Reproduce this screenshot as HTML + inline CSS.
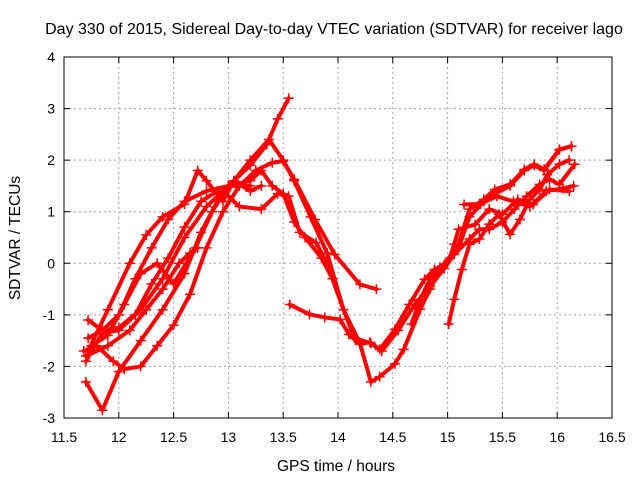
<!DOCTYPE html>
<html><head><meta charset="utf-8"><style>
body{margin:0;background:#fff;}
svg{display:block;font-family:"Liberation Sans",sans-serif;font-size:14px;}
</style></head><body>
<svg id="chart" width="640" height="480">
<text x="334" y="34" text-anchor="middle" style="font-size:16px">Day 330 of 2015, Sidereal Day-to-day VTEC variation (SDTVAR) for receiver lago</text>
<text x="336" y="471" text-anchor="middle" style="font-size:15.5px">GPS time / hours</text>
<text transform="translate(20,238) rotate(-90)" text-anchor="middle" style="font-size:15.5px">SDTVAR / TECUs</text>
<g id="grid"></g><g id="series"></g><g id="axes"></g>
</svg>
<script>
const xTicks=[11.5,12,12.5,13,13.5,14,14.5,15,15.5,16,16.5];
const yTicks=[-3,-2,-1,0,1,2,3,4];
const xTickLabels=["11.5","12","12.5","13","13.5","14","14.5","15","15.5","16","16.5"];
const yTickLabels=["-3","-2","-1","0","1","2","3","4"];
const trackTimes=[
[11.72,11.85,12.0,12.2,12.4,12.6,12.8,13.0,13.2,13.35,13.45,13.55],
[11.7,11.85,12.0,12.2,12.4,12.6,12.75,12.9,13.05,13.2,13.37,13.5,13.6,13.75,13.9,14.05,14.15,14.3,14.4,14.55,14.7,14.84,14.97,15.1,15.2,15.33,15.43,15.57,15.7,15.79,15.88,16.02,16.13],
[11.68,11.8,11.95,12.05,12.2,12.35,12.5,12.65,12.8,12.95,13.1,13.25,13.4,13.5,13.6,13.79,13.97,14.2,14.35],
[11.7,11.85,12.0,12.15,12.3,12.45,12.6,12.75,12.9,13.0,13.1,13.3,13.45,13.55,13.65,13.8,13.9,14.05,14.2,14.3,14.38,14.52,14.6,14.75,14.84,14.93,15.02,15.06,15.1,15.25,15.38,15.5,15.64,15.78,15.93,16.11],
[11.72,11.85,12.0,12.15,12.3,12.45,12.6,12.8,13.0,13.2,13.3,13.4,13.5,13.6,13.7,13.85,13.95,14.05],
[11.75,11.9,12.05,12.2,12.35,12.5,12.7,12.85,13.0,13.2],
[11.7,11.9,12.1,12.25,12.4,12.55,12.65,12.72],
[11.72,11.9,12.1,12.25,12.4,12.6,12.72,12.8,12.95,13.05,13.2,13.3],
[13.56,13.74,13.88,14.02,14.1,14.2,14.29,14.38,14.52,14.65,14.79,14.88,14.97,15.1,15.2,15.33,15.43,15.57,15.7,15.79,15.88,16.02,16.13],
[15.01,15.06,15.13,15.2,15.29,15.38,15.47,15.57,15.66,15.75,15.84,15.91,16.02,16.11],
[14.67,14.75,14.84,14.93,15.06,15.2,15.29,15.38,15.5,15.61,15.72,15.84,15.93,16.02,16.16],
[15.15,15.3,15.45,15.6,15.75,15.9,16.05,16.15]
];
const trackValues=[
[-1.45,-1.3,-1.25,-0.9,-0.3,0.5,1.1,1.5,1.9,2.3,2.8,3.2],
[-2.3,-2.85,-2.1,-1.5,-0.9,-0.2,0.6,1.2,1.6,2.0,2.4,2.0,1.6,0.9,0.2,-0.9,-1.45,-1.55,-1.7,-1.3,-0.8,-0.45,-0.1,0.3,0.9,1.2,1.35,1.5,1.8,1.9,1.8,2.2,2.27],
[-1.7,-1.6,-1.9,-2.05,-2.0,-1.6,-1.2,-0.6,0.3,1.0,1.5,1.8,1.95,1.98,1.63,0.85,0.17,-0.41,-0.5],
[-1.9,-1.35,-1.3,-1.0,-0.4,0.1,0.7,1.2,1.4,1.3,1.1,1.05,1.35,1.3,0.6,0.4,0.0,-0.9,-1.55,-2.3,-2.2,-1.95,-1.67,-0.89,-0.5,-0.12,0.1,0.37,0.66,0.75,1.05,0.95,1.24,1.14,1.43,1.4],
[-1.1,-1.3,-1.0,-0.3,0.3,0.85,1.2,1.4,1.5,1.6,1.8,1.5,1.35,0.8,0.5,0.1,-0.3,-0.9],
[-1.6,-1.4,-0.8,-0.2,0.0,-0.4,0.3,1.0,1.5,1.5],
[-1.8,-1.6,-1.3,-0.9,-0.5,0.0,0.2,0.3],
[-1.7,-0.9,0.0,0.55,0.9,1.15,1.8,1.6,1.2,1.6,1.4,1.5],
[-0.8,-0.99,-1.05,-1.09,-1.38,-1.57,-1.53,-1.67,-1.28,-0.8,-0.31,-0.12,-0.02,0.37,1.05,1.24,1.43,1.53,1.82,1.92,1.82,2.21,2.27],
[-1.18,-0.7,-0.12,0.37,0.47,0.76,0.95,0.56,0.85,1.24,1.43,1.72,1.92,2.0],
[-1.18,-0.7,-0.31,-0.08,0.17,0.47,0.66,0.66,0.8,1.05,1.3,1.53,1.63,1.53,1.92],
[1.14,1.15,1.3,1.2,1.1,1.4,1.45,1.5]
];
const NS="http://www.w3.org/2000/svg";
const L=64,R=612,T=57,B=418;
const sx=t=>L+(t-11.5)/5*(R-L);
const sy=v=>B-(v+3)/7*(B-T);
function mk(tag,parent,attrs){const e=document.createElementNS(NS,tag);for(const k in attrs)e.setAttribute(k,attrs[k]);parent.appendChild(e);return e;}
const grid=document.getElementById('grid'),axes=document.getElementById('axes'),ser=document.getElementById('series');
xTicks.forEach((t,i)=>{const x=sx(t);
 if(i>0&&i<xTicks.length-1){const g=mk('line',grid,{x1:x,x2:x,y1:T,y2:B,stroke:'#a0a0a0','stroke-dasharray':'2,3'});
 
 }
 mk('line',axes,{x1:x,x2:x,y1:B,y2:B-6,stroke:'#000'});mk('line',axes,{x1:x,x2:x,y1:T,y2:T+6,stroke:'#000'});
 const tx=mk('text',axes,{x:x,y:B+24,'text-anchor':'middle'});tx.textContent=xTickLabels[i];
 
 });
yTicks.forEach((v,i)=>{const y=sy(v);
 if(i>0&&i<yTicks.length-1){const g=mk('line',grid,{x1:L,x2:R,y1:y,y2:y,stroke:'#a0a0a0','stroke-dasharray':'2,3'});
 
 }
 mk('line',axes,{x1:L,x2:L+6,y1:y,y2:y,stroke:'#000'});mk('line',axes,{x1:R,x2:R-6,y1:y,y2:y,stroke:'#000'});
 const tx=mk('text',axes,{x:L-9,y:y+5,'text-anchor':'end'});tx.textContent=yTickLabels[i];
 
 });
const frame=mk('rect',axes,{x:L,y:T,width:R-L,height:B-T,fill:'none',stroke:'#000'});


trackTimes.forEach((ts,k)=>{const vs=trackValues[k];
 const pts=ts.map((t,i)=>sx(t)+','+sy(vs[i])).join(' ');
 const g=mk('g',ser,{});
 
 
 mk('polyline',g,{points:pts,fill:'none',stroke:'#ff0000','stroke-width':4,'stroke-linejoin':'round','stroke-linecap':'round'});
 ts.forEach((t,i)=>{const x=sx(t),y=sy(vs[i]);
  const p=mk('path',g,{d:`M${x-5},${y}H${x+5}M${x},${y-5}V${y+5}`,stroke:'#ff0000','stroke-width':1.5});
  
  });});
</script>
</body></html>
